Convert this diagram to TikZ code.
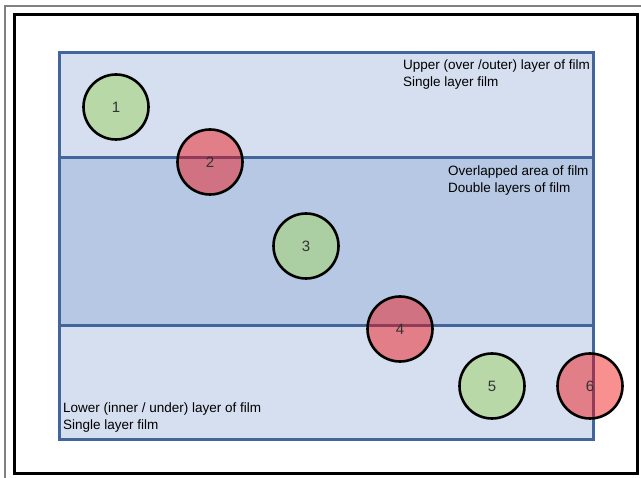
\documentclass[tikz,border=0pt]{standalone}
\usepackage{fontspec}
\setmainfont{Liberation Sans}

\definecolor{filmlight}{RGB}{213,223,239}
\definecolor{filmdark}{RGB}{182,200,227}
\definecolor{filmedge}{RGB}{66,101,156}
\definecolor{spotgreen}{RGB}{165,212,120}
\definecolor{spotred}{RGB}{240,10,10}

\tikzset{
  film/.style={draw=filmedge, line width=3pt},
  spot/.style={circle, draw=black, line width=2.6pt, minimum size=65pt, inner sep=0pt,
    text=black!80, text opacity=1, font=\fontsize{15}{17}\selectfont},
  goodspot/.style={spot, fill=spotgreen, fill opacity=0.6},
  badspot/.style={spot, fill=spotred, fill opacity=0.45},
  filmtext/.style={anchor=north west, inner sep=0pt, align=left, font=\fontsize{13.5}{16.5}\selectfont}
}

\begin{document}
\begin{tikzpicture}[x=1pt, y=-1pt]
  \useasboundingbox (0,0) rectangle (641,478);
  \fill[white] (0,0) rectangle (641,478);
  % frames
  \draw[gray, line width=1.5pt] (5,478) -- (5,6) -- (641,6);
  \draw[black, line width=3pt] (14,15) rectangle (637,474);
  % film layers
  \draw[film, fill=filmlight] (59,53) rectangle (593,440);
  \draw[film, fill=filmdark] (59,158) rectangle (593,326);
  \node[filmtext] (upper) at (403,60) {Upper (over /outer) layer of film\\Single layer film};
  \node[filmtext] (overlap) at (448,166) {Overlapped area of film\\Double layers of film};
  \node[filmtext] (lower) at (63,403) {Lower (inner / under) layer of film\\Single layer film};
  % spots
  \node[goodspot] (c1) at (116,107) {1};
  \node[badspot]  (c2) at (210,162) {2};
  \node[goodspot] (c3) at (306,246) {3};
  \node[badspot]  (c4) at (400,329) {4};
  \node[goodspot] (c5) at (492,386) {5};
  \node[badspot]  (c6) at (590,386) {6};
\end{tikzpicture}
\end{document}
